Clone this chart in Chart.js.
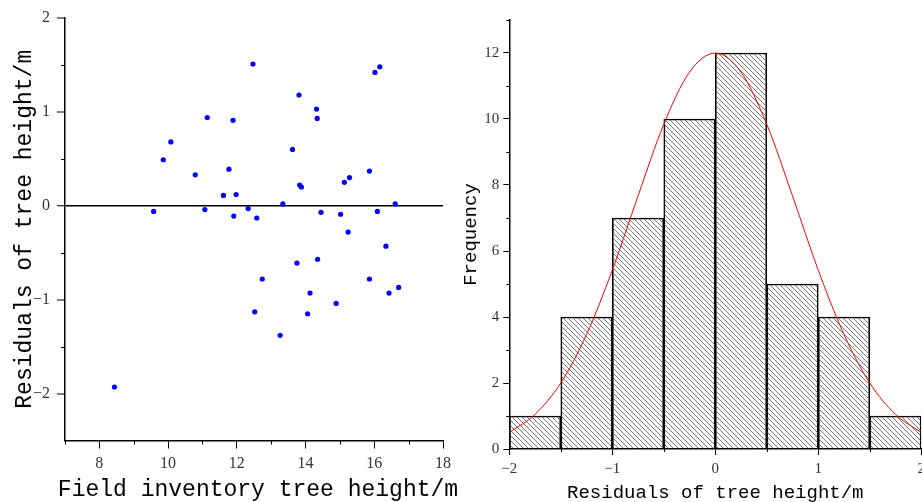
<!DOCTYPE html>
<html><head><meta charset="utf-8">
<script src="https://cdn.jsdelivr.net/npm/chart.js@4.4.0/dist/chart.umd.min.js"></script>
<style>
html,body{margin:0;padding:0;background:#fff;overflow:hidden;width:922px;height:502px;}
#c1{position:absolute;left:0;top:0;}
#c2{position:absolute;left:460px;top:0;}
</style></head><body>
<canvas id="c1" width="460" height="502"></canvas>
<canvas id="c2" width="470" height="502"></canvas>
<script>
// ---- Left panel: residual scatter ----
const fieldHeight = [9.58, 9.86, 10.08, 10.79, 11.07, 11.14, 11.61, 11.77, 11.89, 11.91, 11.98, 12.33, 12.47, 12.58, 13.34, 13.62, 13.81, 13.83, 13.88, 14.32, 14.34, 14.45, 15.02, 15.13, 15.24, 15.28, 15.86, 16.02, 16.09, 16.16, 16.34, 16.61, 13.75, 14.35, 12.74, 15.86, 14.13, 16.43, 16.71, 14.89, 12.52, 14.06, 13.26, 8.44];
const residuals   = [-0.06, 0.49, 0.68, 0.33, -0.04, 0.94, 0.11, 0.39, 0.91, -0.11, 0.12, -0.03, 1.51, -0.13, 0.02, 0.60, 1.18, 0.22, 0.20, 1.03, 0.93, -0.07, -0.09, 0.25, -0.28, 0.30, 0.37, 1.42, -0.06, 1.48, -0.43, 0.02, -0.61, -0.57, -0.78, -0.78, -0.93, -0.93, -0.87, -1.04, -1.13, -1.15, -1.38, -1.93];
const leftXTicks = [8, 10, 12, 14, 16, 18];
const leftXMinor = [7, 9, 11, 13, 15, 17];
const leftYTicks = [-2, -1, 0, 1, 2];
const leftYMinor = [-1.5, -0.5, 0.5, 1.5];
const leftXTitle = 'Field inventory tree height/m';
const leftYTitle = 'Residuals of tree height/m';

// ---- Right panel: residual histogram + normal curve ----
const binCenters  = [-1.75, -1.25, -0.75, -0.25, 0.25, 0.75, 1.25, 1.75];
const frequencies = [1, 4, 7, 10, 12, 5, 4, 1];
const curveX = [-2, -1.75, -1.5, -1.25, -1, -0.75, -0.5, -0.25, 0, 0.25, 0.5, 0.75, 1, 1.25, 1.5, 1.75, 2];
const curveY = [0.5, 1.05, 2.0, 3.47, 5.42, 7.67, 9.84, 11.42, 12, 11.42, 9.84, 7.67, 5.42, 3.47, 2.0, 1.05, 0.5];
const rightXTicks = [-2, -1, 0, 1, 2];
const rightXMinor = [-1.5, -0.5, 0.5, 1.5];
const rightYTicks = [0, 2, 4, 6, 8, 10, 12];
const rightYMinor = [1, 3, 5, 7, 9, 11, 13];

const fmt = v => v < 0 ? '\u2212' + Math.abs(v) : String(v);
const MONO = '"Liberation Mono", "DejaVu Sans Mono", monospace';

const minorTicks = {
  id: 'minorTicks',
  afterDraw(chart, args, opts) {
    const ctx = chart.ctx, xs = chart.scales.x, ys = chart.scales.y;
    ctx.save(); ctx.strokeStyle = '#000'; ctx.lineWidth = 1;
    (opts.x || []).forEach(v => {
      const p = Math.round(xs.getPixelForValue(v)) + 0.5;
      ctx.beginPath(); ctx.moveTo(p, xs.top); ctx.lineTo(p, xs.top + opts.len); ctx.stroke();
    });
    (opts.y || []).forEach(v => {
      const p = Math.round(ys.getPixelForValue(v)) + 0.5;
      ctx.beginPath(); ctx.moveTo(ys.right, p); ctx.lineTo(ys.right - opts.len, p); ctx.stroke();
    });
    ctx.restore();
  }
};

// x-axis title drawn without Chart.js's maxWidth squeeze (the reference title is wider than the axis)
const freeXTitle = {
  id: 'freeXTitle',
  afterDraw(chart, args, opts) {
    if (!opts.text) return;
    const ctx = chart.ctx, xs = chart.scales.x;
    ctx.save();
    ctx.font = opts.size + 'px ' + MONO;
    ctx.fillStyle = '#000'; ctx.textAlign = 'center'; ctx.textBaseline = 'middle';
    ctx.fillText(opts.text, (xs.left + xs.right) / 2 + opts.dx, xs.bottom - opts.up);
    ctx.restore();
  }
};

function hatch() {
  const s = 5, c = document.createElement('canvas'); c.width = s; c.height = s;
  const g = c.getContext('2d'); g.strokeStyle = '#666'; g.lineWidth = 0.9;
  g.beginPath();
  g.moveTo(0, 0); g.lineTo(s, s);
  g.moveTo(-1, s - 1); g.lineTo(1, s + 1);
  g.moveTo(s - 1, -1); g.lineTo(s + 1, 1);
  g.stroke();
  return g.createPattern(c, 'repeat');
}

const tickFont = { family: '"Liberation Serif", "Times New Roman", serif', size: 16 };
const monoLY = { family: MONO, size: 23 };
const monoR = { family: MONO, size: 19 };

new Chart(document.getElementById('c1'), {
  type: 'scatter',
  data: { datasets: [{
    data: fieldHeight.map((x, i) => ({ x: x, y: residuals[i] })),
    backgroundColor: '#0000ff', borderWidth: 0, pointRadius: 2.6
  }]},
  options: {
    responsive: false, animation: false,
    layout: { padding: { left: 0, top: 18, right: 17, bottom: 0 } },
    plugins: { legend: { display: false }, tooltip: { enabled: false },
      minorTicks: { x: leftXMinor, y: leftYMinor, len: 4 },
      freeXTitle: { text: leftXTitle, size: 23, dx: 4, up: 12 } },
    scales: {
      x: {
        type: 'linear', min: 7, max: 18,
        afterBuildTicks: s => { s.ticks = leftXTicks.map(v => ({ value: v })); },
        afterFit: s => { s.height = 61.5; },
        grid: { drawOnChartArea: false, tickLength: 8, tickColor: '#000', tickWidth: 1 },
        border: { color: '#000', width: 1.5 },
        ticks: { font: tickFont, color: '#333', padding: 6, callback: fmt, maxRotation: 0 },
        title: { display: false }
      },
      y: {
        type: 'linear', min: -2.5, max: 2,
        afterBuildTicks: s => { s.ticks = leftYTicks.map(v => ({ value: v })); },
        afterFit: s => { s.width = 65; },
        grid: { drawOnChartArea: true, tickLength: 8, tickColor: '#000', tickWidth: 1,
          color: c => (c.tick && c.tick.value === 0) ? '#000' : 'rgba(0,0,0,0)',
          lineWidth: c => (c.tick && c.tick.value === 0) ? 1.5 : 0 },
        border: { color: '#000', width: 1.5 },
        ticks: { font: tickFont, color: '#333', padding: 7, callback: fmt },
        title: { display: true, text: leftYTitle, font: monoLY, color: '#000', padding: { top: 11, bottom: 0 } }
      }
    }
  },
  plugins: [minorTicks, freeXTitle]
});

new Chart(document.getElementById('c2'), {
  type: 'bar',
  data: { datasets: [
    { type: 'line', order: 0,
      data: curveX.map((x, i) => ({ x: x, y: curveY[i] })),
      borderColor: '#ff0000', borderWidth: 1, pointRadius: 0, fill: false,
      cubicInterpolationMode: 'monotone' },
    { type: 'bar', order: 1,
      data: binCenters.map((x, i) => ({ x: x, y: frequencies[i] })),
      backgroundColor: hatch(), borderColor: '#000', borderWidth: 1,
      barPercentage: 1, categoryPercentage: 1 }
  ]},
  options: {
    responsive: false, animation: false,
    layout: { padding: { left: 0, top: 20, right: 7.3, bottom: 0 } },
    plugins: { legend: { display: false }, tooltip: { enabled: false },
      minorTicks: { x: rightXMinor, y: rightYMinor, len: 3 } },
    scales: {
      x: {
        type: 'linear', min: -2, max: 2, offset: false,
        afterBuildTicks: s => { s.ticks = rightXTicks.map(v => ({ value: v })); },
        afterFit: s => { s.height = 53; },
        grid: { drawOnChartArea: false, offset: false, tickLength: 6, tickColor: '#000', tickWidth: 1 },
        border: { color: '#000', width: 1.5 },
        ticks: { font: { family: tickFont.family, size: 15 }, color: '#333', padding: 5, callback: fmt, maxRotation: 0 },
        title: { display: true, text: 'Residuals of tree height/m', font: monoR, color: '#000', padding: { top: 0, bottom: -2 } }
      },
      y: {
        type: 'linear', min: 0, max: 13,
        afterBuildTicks: s => { s.ticks = rightYTicks.map(v => ({ value: v })); },
        afterFit: s => { s.width = 49.3; },
        grid: { drawOnChartArea: false, tickLength: 6, tickColor: '#000', tickWidth: 1 },
        border: { color: '#000', width: 1.5 },
        ticks: { font: { family: tickFont.family, size: 15 }, color: '#333', padding: 4, callback: fmt },
        title: { display: true, text: 'Frequency', font: monoR, color: '#000', padding: { top: 0, bottom: 0 } }
      }
    }
  },
  plugins: [minorTicks]
});
</script>
</body></html>
